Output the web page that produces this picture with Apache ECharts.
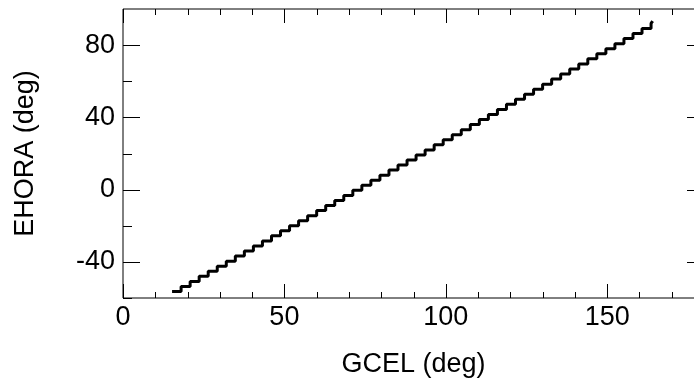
<!DOCTYPE html>
<html>
<head>
<meta charset="utf-8">
<script src="https://cdn.jsdelivr.net/npm/echarts@6/dist/echarts.min.js"></script>
<style>
html,body{margin:0;padding:0;background:#fff;}
#chart{width:694px;height:385px;}
</style>
</head>
<body>
<div id="chart"></div>
<script>
var gcel = [15.2, 18.0, 20.8, 23.6, 26.4, 29.2, 32.0, 34.8, 37.6, 40.4, 43.2, 46.0, 48.8, 51.6, 54.4, 57.2, 60.0, 62.8, 65.6, 68.4, 71.2, 74.0, 76.8, 79.6, 82.4, 85.2, 88.0, 90.8, 93.6, 96.4, 99.2, 102.0, 104.8, 107.6, 110.4, 113.2, 116.0, 118.8, 121.6, 124.4, 127.2, 130.0, 132.8, 135.6, 138.4, 141.2, 144.0, 146.8, 149.6, 152.4, 155.2, 158.0, 160.8, 163.6, 164.1];
var ehora = [-56.4, -53.6, -50.8, -48.0, -45.2, -42.4, -39.6, -36.8, -34.0, -31.2, -28.4, -25.6, -22.8, -20.0, -17.2, -14.4, -11.6, -8.8, -6.0, -3.2, -0.4, 2.4, 5.2, 8.0, 10.8, 13.6, 16.4, 19.2, 22.0, 24.8, 27.6, 30.4, 33.2, 36.0, 38.8, 41.6, 44.4, 47.2, 50.0, 52.8, 55.6, 58.4, 61.2, 64.0, 66.8, 69.6, 72.4, 75.2, 78.0, 80.8, 83.6, 86.4, 89.2, 92.0, 93.3];
var xTicks = [0, 50, 100, 150];
var xMinorTicks = [10, 20, 30, 40, 60, 70, 80, 90, 110, 120, 130, 140, 160, 170];
var yTicks = [-40, 0, 40, 80];
var yMinorTicks = [-60, -20, 20, 60];
var xName = 'GCEL (deg)';
var yName = 'EHORA (deg)';

var pts = gcel.map(function (x, i) { return [x, ehora[i]]; });
var FONT = 'Liberation Sans, Arial, sans-serif';
var XMIN = 0, XMAX = 180, YMIN = -60, YMAX = 100;
var X_MAJOR_LEN = 14, X_MINOR_LEN = 6, Y_MAJOR_LEN = 17, Y_MINOR_LEN = 9;

function tickLine(x1, y1, x2, y2) {
  return { type: 'line', shape: { x1: x1, y1: y1, x2: x2, y2: y2 },
    style: { stroke: '#000', lineWidth: 1 } };
}

function renderTicks(params, api) {
  var children = [];
  function xt(vals, len) {
    vals.forEach(function (v) {
      var b = api.coord([v, YMIN]);
      var t = api.coord([v, YMAX]);
      var x = Math.round(b[0]) + 0.5;
      children.push(tickLine(x, b[1], x, b[1] - len));
      children.push(tickLine(x, t[1], x, t[1] + len));
    });
  }
  function yt(vals, len) {
    vals.forEach(function (v) {
      var l = api.coord([XMIN, v]);
      var r = api.coord([XMAX, v]);
      var y = Math.round(l[1]) + 0.5;
      children.push(tickLine(l[0], y, l[0] + len, y));
      children.push(tickLine(r[0], y, r[0] - len, y));
    });
  }
  xt(xTicks, X_MAJOR_LEN);
  xt(xMinorTicks, X_MINOR_LEN);
  yt(yTicks, Y_MAJOR_LEN);
  yt(yMinorTicks, Y_MINOR_LEN);
  return { type: 'group', children: children };
}

var chart = echarts.init(document.getElementById('chart'), null, { renderer: 'canvas' });
chart.setOption({
  animation: false,
  backgroundColor: '#fff',
  grid: { left: 123, top: 9, width: 581, height: 289, containLabel: false, outerBoundsMode: 'none',
    show: true, borderColor: '#000', borderWidth: 1, backgroundColor: 'transparent' },
  xAxis: {
    type: 'value', position: 'bottom', min: XMIN, max: XMAX, interval: 10,
    axisLine: { show: false, onZero: false },
    axisTick: { show: false },
    axisLabel: { show: true, customValues: xTicks.slice(), fontFamily: FONT, fontSize: 27, color: '#000', margin: 6 },
    splitLine: { show: false },
    name: xName, nameLocation: 'middle', nameGap: 53,
    nameTextStyle: { fontFamily: FONT, fontSize: 27, color: '#000' }
  },
  yAxis: {
    type: 'value', position: 'left', min: YMIN, max: YMAX, interval: 20,
    axisLine: { show: false, onZero: false },
    axisTick: { show: false },
    axisLabel: { show: true, customValues: yTicks.slice(), fontFamily: FONT, fontSize: 27, color: '#000', margin: 8 },
    splitLine: { show: false },
    name: yName, nameLocation: 'middle', nameGap: 84,
    nameTextStyle: { fontFamily: FONT, fontSize: 27, color: '#000' }
  },
  series: [{
    type: 'line', data: pts, step: 'end',
    showSymbol: false, symbol: 'none',
    lineStyle: { color: '#000', width: 3 }
  }, {
    type: 'custom', coordinateSystem: 'cartesian2d', silent: true, clip: false, z: 10,
    data: [[XMIN, YMIN]],
    renderItem: renderTicks
  }]
});
</script>
</body>
</html>
